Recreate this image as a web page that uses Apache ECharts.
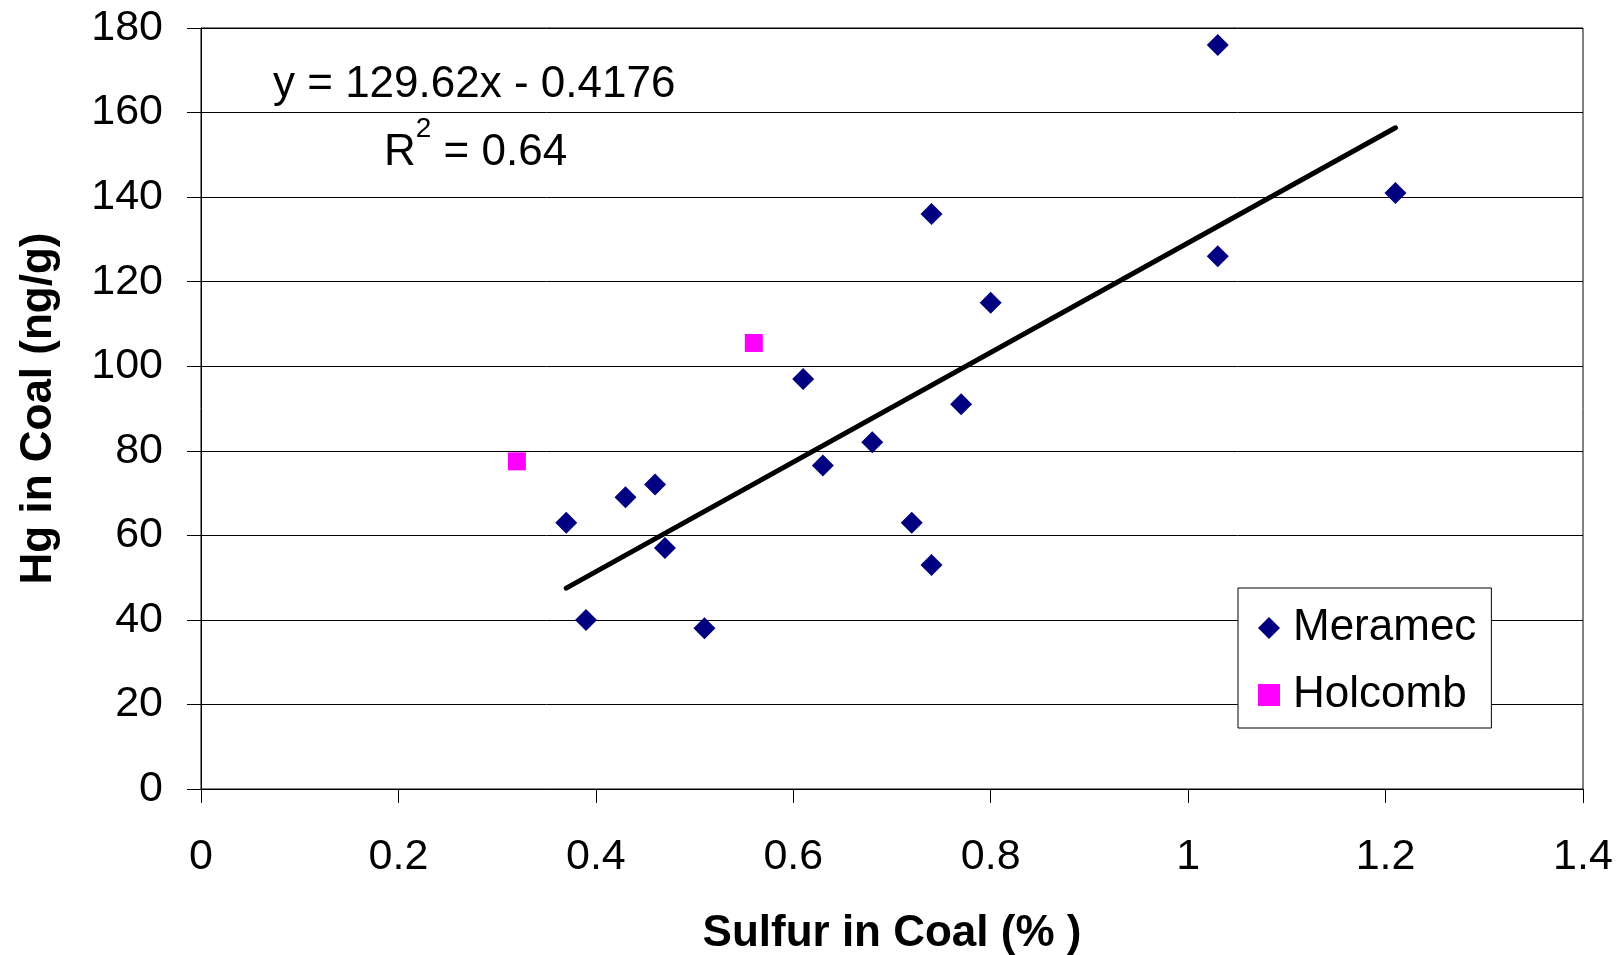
<!DOCTYPE html>
<html>
<head>
<meta charset="utf-8">
<script src="https://cdn.jsdelivr.net/npm/echarts@6/dist/echarts.min.js"></script>
<style>
html,body{margin:0;padding:0;background:#fff;}
#chart{width:1622px;height:955px;}
</style>
</head>
<body>
<div id="chart"></div>
<script>
// Meramec: sulfur (%) and Hg (ng/g)
const meramecSulfur = [0.37, 0.39, 0.43, 0.46, 0.47, 0.51, 0.61, 0.63, 0.68, 0.72, 0.74, 0.74, 0.77, 0.80, 1.03, 1.03, 1.21];
const meramecHg     = [63,   40,   69,   72,   57,   38,   97,   76.5, 82,   63,   136,  53,   91,   115,  176,  126,  141];
// Holcomb
const holcombSulfur = [0.32, 0.56];
const holcombHg     = [77.5, 105.5];
// Linear trend line endpoints (as drawn)
const trendSulfur = [0.37, 1.21];
const trendHg     = [47.5, 156.4];
const equationText = 'y = 129.62x - 0.4176';
const r2Text = '0.64';

const FONT = '"Liberation Sans", Arial, sans-serif';

const zip = (a, b) => a.map((v, i) => [v, b[i]]);

const chart = echarts.init(document.getElementById('chart'), null, {renderer: 'canvas'});
chart.setOption({
  animation: false,
  backgroundColor: '#ffffff',
  textStyle: {fontFamily: FONT},
  grid: {left: 201, right: 39, top: 28, bottom: 166, show: true, borderColor: '#000', borderWidth: 1,
         backgroundColor: 'transparent', containLabel: false, outerBoundsMode: 'none'},
  xAxis: {
    type: 'value', min: 0, max: 1.4, interval: 0.2,
    name: 'Sulfur in Coal (% )', nameLocation: 'middle', nameGap: 123,
    nameTextStyle: {fontFamily: FONT, fontSize: 44, fontWeight: 'bold', color: '#000'},
    axisLine: {show: true, onZero: false, lineStyle: {color: '#000', width: 1}},
    axisTick: {show: true, inside: false, length: 14, lineStyle: {color: '#000'}},
    axisLabel: {fontFamily: FONT, fontSize: 43, color: '#000', margin: 47, showMaxLabel: true, showMinLabel: true},
    splitLine: {show: false}
  },
  yAxis: {
    type: 'value', min: 0, max: 180, interval: 20,
    name: 'Hg in Coal (ng/g)', nameLocation: 'middle', nameGap: 140,
    nameTextStyle: {fontFamily: FONT, fontSize: 44, fontWeight: 'bold', color: '#000'},
    axisLine: {show: true, lineStyle: {color: '#000', width: 1}},
    axisTick: {show: true, inside: false, length: 14, lineStyle: {color: '#000'}},
    axisLabel: {fontFamily: FONT, fontSize: 43, color: '#000', margin: 38},
    splitLine: {show: true, lineStyle: {color: '#000', width: 1}}
  },
  legend: {
    orient: 'vertical', left: 1238, top: 588,
    backgroundColor: '#fff', borderColor: '#000', borderWidth: 1, borderRadius: 0,
    padding: [18, 15, 11, 20],
    itemWidth: 22, itemHeight: 22, itemGap: 23,
    textStyle: {fontFamily: FONT, fontSize: 44, color: '#000', padding: [0, 0, 0, 8]},
    data: [
      {name: 'Meramec', icon: 'diamond', itemStyle: {color: '#000080'}},
      {name: 'Holcomb', icon: 'rect', itemStyle: {color: '#ff00ff'}}
    ]
  },
  graphic: [
    {type: 'text', left: 273, top: 63, z: 10,
      style: {text: equationText, font: '44px ' + FONT, fill: '#000'}},
    {type: 'text', left: 384, top: 115, z: 10,
      style: {
        text: '{n|R}{s|2}{n| = ' + r2Text + '}',
        rich: {
          n: {font: '44px ' + FONT, fill: '#000', verticalAlign: 'bottom', padding: [16, 0, 0, 0]},
          s: {font: '28px ' + FONT, fill: '#000', verticalAlign: 'top'}
        }
      }}
  ],
  series: [
    {
      name: 'Meramec', type: 'scatter', symbol: 'diamond', symbolSize: 22,
      itemStyle: {color: '#000080', opacity: 1}, z: 5,
      data: zip(meramecSulfur, meramecHg)
    },
    {
      name: 'Holcomb', type: 'scatter', symbol: 'rect', symbolSize: 18,
      itemStyle: {color: '#ff00ff', opacity: 1}, z: 5,
      data: zip(holcombSulfur, holcombHg)
    },
    {
      name: 'trend', type: 'line', showSymbol: false, symbol: 'none',
      lineStyle: {color: '#000', width: 5, cap: 'round'}, z: 4, silent: true,
      data: zip(trendSulfur, trendHg)
    }
  ]
});
</script>
</body>
</html>
